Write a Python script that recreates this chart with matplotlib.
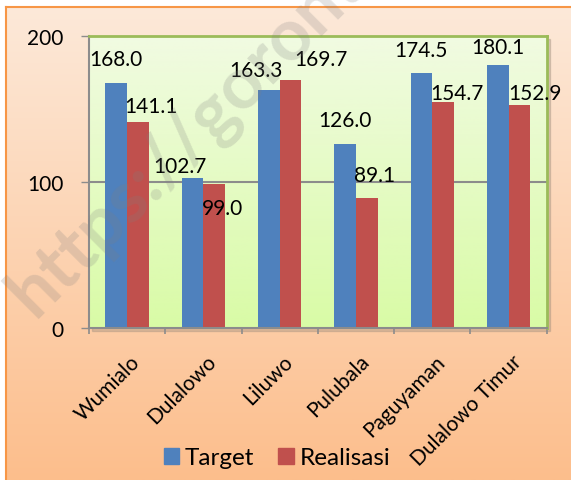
import numpy as np
import matplotlib.pyplot as plt
from matplotlib.patches import Rectangle

plt.rcParams['font.family'] = ['Lato', 'DejaVu Sans']

categories = ["Wumialo", "Dulalowo", "Liluwo", "Pulubala", "Paguyaman", "Dulalowo Timur"]
target = [168.0, 102.7, 163.3, 126.0, 174.5, 180.1]
realisasi = [141.1, 99.0, 169.7, 89.1, 154.7, 152.9]
series_names = ["Target", "Realisasi"]

# hand-placed label nudges (pixels, baseline relative to bar top)
target_nudge = [(0, 18), (-13, 6), (-13, 14), (0, 18), (0, 17), (0, 12)]
realisasi_nudge = [(13, 10), (8, -30), (30, 15), (8, 17), (14, 3), (16, 6)]

W, H = 571, 481
fig = plt.figure(figsize=(W / 100, H / 100), dpi=100)
fig.patch.set_facecolor("white")

# outer chart area: peach gradient with orange frame
bg = fig.add_axes([6 / W, 0, 1 - 6 / W, (H - 8) / H], zorder=-10)
grad = np.linspace(0, 1, 256)[:, None]
c_top = np.array([253, 233, 217]) / 255
c_bot = np.array([252, 190, 140]) / 255
img = c_top[None, None, :] * (1 - grad[:, :, None]) + c_bot[None, None, :] * grad[:, :, None]
bg.imshow(img, aspect="auto", extent=(0, 1, 0, 1))
bg.set_xlim(0, 1)
bg.set_ylim(0, 1)
bg.set_xticks([])
bg.set_yticks([])
for s in ["right", "bottom"]:
    bg.spines[s].set_visible(False)
for s in ["left", "top"]:
    bg.spines[s].set_color("#F79646")
    bg.spines[s].set_linewidth(1.5)

# plot area
x0, x1, y0, y1 = 89, 546.7, 37.3, 329
pos = [x0 / W, (H - y1) / H, (x1 - x0) / W, (y1 - y0) / H]
fig.patches.append(Rectangle((pos[0] + 3 / W, pos[1] - 3 / H), pos[2], pos[3],
                             transform=fig.transFigure, color="#9a8a7a", alpha=0.35,
                             zorder=-5))
ax = fig.add_axes(pos)

p_top = np.array([241, 251, 226]) / 255
p_bot = np.array([217, 251, 166]) / 255
pimg = p_top[None, None, :] * (1 - grad[:, :, None]) + p_bot[None, None, :] * grad[:, :, None]
ax.imshow(pimg, aspect="auto", extent=(-0.5, 5.5, 0, 200), zorder=0)

x = np.arange(len(categories))
w = 0.285
ax.axhline(100, color="#8C8C8C", lw=1.5, zorder=1)
ax.bar(x - w / 2, target, w, color="#4F81BD", zorder=2)
ax.bar(x + w / 2, realisasi, w, color="#C0504D", zorder=2)

for xi, v, (dx, dy) in zip(x - w / 2, target, target_nudge):
    ax.annotate(f"{v:.1f}", (xi, v), xytext=(dx, dy), textcoords="offset pixels",
                ha="center", va="baseline", fontsize=15, zorder=5)
for xi, v, (dx, dy) in zip(x + w / 2, realisasi, realisasi_nudge):
    ax.annotate(f"{v:.1f}", (xi, v), xytext=(dx, dy), textcoords="offset pixels",
                ha="center", va="baseline", fontsize=15, zorder=5)

ax.set_xlim(-0.5, 5.5)
ax.set_ylim(0, 200)
ax.set_yticks([0, 100, 200])
ax.tick_params(axis="y", length=5.8, width=1, color="#8C8C8C", pad=12.5, labelsize=15)
ax.set_xticks([])
ax.set_xticks(np.arange(-0.5, 6, 1), minor=True)
ax.tick_params(axis="x", which="minor", length=4.3, width=1.2, color="#8C8C8C")
for s in ["left", "bottom"]:
    ax.spines[s].set_color("#8C8C8C")
    ax.spines[s].set_linewidth(1.5)
for s in ["top", "right"]:
    ax.spines[s].set_color("#9BBB59")
    ax.spines[s].set_linewidth(2)

for xi, name in zip(x, categories):
    ax.annotate(name, (xi, 0), xycoords=ax.get_xaxis_transform(), xytext=(10, -30),
                textcoords="offset pixels", ha="right", va="center", rotation=45,
                rotation_mode="anchor", fontsize=15, annotation_clip=False)

handles = [Rectangle((0, 0), 1, 1, color="#4F81BD"), Rectangle((0, 0), 1, 1, color="#C0504D")]
fig.legend(handles, series_names, loc="center", bbox_to_anchor=(277 / W, (H - 459) / H),
           ncol=2, frameon=False, fontsize=17.5, handlelength=0.62, handleheight=0.62,
           handletextpad=0.25, columnspacing=1.0, borderpad=0)

# faint watermark
fig.text(34 / W, (H - 318) / H, "https://gorontalokab.go.id", fontsize=52, fontweight="bold",
         color="#7f7f7f", alpha=0.22, rotation=45, rotation_mode="anchor",
         ha="left", va="baseline", zorder=20)

fig.savefig("out.png", dpi=100)
